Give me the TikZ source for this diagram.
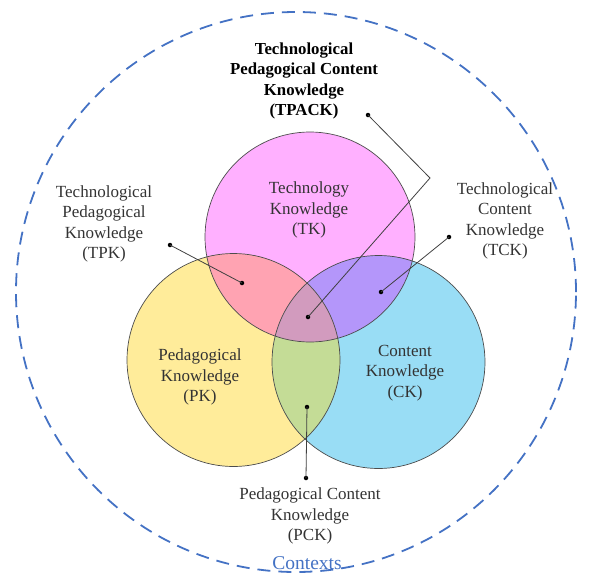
\documentclass[tikz,border=0pt]{standalone}
\usepackage{fontspec}
\setmainfont{Liberation Serif}
\definecolor{tkcol}{RGB}{255,176,255}
\definecolor{pkcol}{RGB}{255,236,154}
\definecolor{ckcol}{RGB}{153,221,245}
\definecolor{tpkcol}{RGB}{255,163,178}
\definecolor{tckcol}{RGB}{180,150,250}
\definecolor{pckcol}{RGB}{196,220,150}
\definecolor{tpackcol}{RGB}{210,155,190}
\definecolor{ctxblue}{RGB}{68,114,196}
\begin{document}
\begin{tikzpicture}[x=1pt,y=-1pt,
  lbl/.style={align=center,font=\fontsize{17}{20.5}\selectfont,text=black!80,inner sep=0pt},
  boldlbl/.style={lbl,font=\fontsize{16.8}{20.5}\selectfont\bfseries,text=black},
  dotmark/.style={circle,fill=black,inner sep=0pt,minimum size=4.5pt},
  leader/.style={draw=black!75,line width=0.8pt},
  rim/.style={draw=black!70,line width=0.7pt},
  ctx/.style={draw=ctxblue,line width=1.8pt,dash pattern=on 13pt off 8pt}]
\useasboundingbox (0,0) rectangle (590,574);

% circle centres
\coordinate (ctk) at (310,237);
\coordinate (cpk) at (233.5,360);
\coordinate (cck) at (378.5,362);

% outer context boundary
\draw[ctx] (296,292) circle [radius=280pt];

% base fills
\fill[tkcol] (ctk) circle [radius=105pt];
\fill[pkcol] (cpk) circle [radius=106.5pt];
\fill[ckcol] (cck) circle [radius=106.5pt];

% pairwise overlaps
\begin{scope}
  \clip (ctk) circle [radius=105pt];
  \fill[tpkcol] (cpk) circle [radius=106.5pt];
  \fill[tckcol] (cck) circle [radius=106.5pt];
\end{scope}
\begin{scope}
  \clip (cpk) circle [radius=106.5pt];
  \fill[pckcol] (cck) circle [radius=106.5pt];
\end{scope}
% triple overlap
\begin{scope}
  \clip (ctk) circle [radius=105pt];
  \clip (cpk) circle [radius=106.5pt];
  \fill[tpackcol] (cck) circle [radius=106.5pt];
\end{scope}

% outlines
\draw[rim] (ctk) circle [radius=105pt];
\draw[rim] (cpk) circle [radius=106.5pt];
\draw[rim] (cck) circle [radius=106.5pt];

% labels
\node[boldlbl] (tpack) at (304,81) {Technological\\Pedagogical Content\\Knowledge\\(TPACK)};
\node[lbl] (tk) at (309,210) {Technology\\Knowledge\\(TK)};
\node[lbl] (tpk) at (104,224) {Technological\\Pedagogical\\Knowledge\\(TPK)};
\node[lbl] (tck) at (505,221) {Technological\\Content\\Knowledge\\(TCK)};
\node[lbl] (pk) at (200,377) {Pedagogical\\Knowledge\\(PK)};
\node[lbl] (ck) at (405,373) {Content\\Knowledge\\(CK)};
\node[lbl] (pck) at (310,516) {Pedagogical Content\\Knowledge\\(PCK)};
\node[font=\fontsize{19.5}{22}\selectfont,text=ctxblue,inner sep=0pt,anchor=base] (contexts) at (307,569) {Contexts};

% leader lines with end dots
\node[dotmark] (tpackA) at (368,115) {};
\coordinate (tpackBend) at (430,178);
\node[dotmark] (tpackB) at (308,317) {};
\draw[leader] (tpackA.center) -- (tpackBend) -- (tpackB.center);

\node[dotmark] (tpkA) at (170,245) {};
\node[dotmark] (tpkB) at (242,283) {};
\draw[leader] (tpkA.center) -- (tpkB.center);

\node[dotmark] (tckA) at (449,237) {};
\node[dotmark] (tckB) at (381,292) {};
\draw[leader] (tckA.center) -- (tckB.center);

\node[dotmark] (pckA) at (307,407) {};
\node[dotmark] (pckB) at (306,478) {};
\draw[leader] (pckA.center) -- (pckB.center);
\end{tikzpicture}
\end{document}
